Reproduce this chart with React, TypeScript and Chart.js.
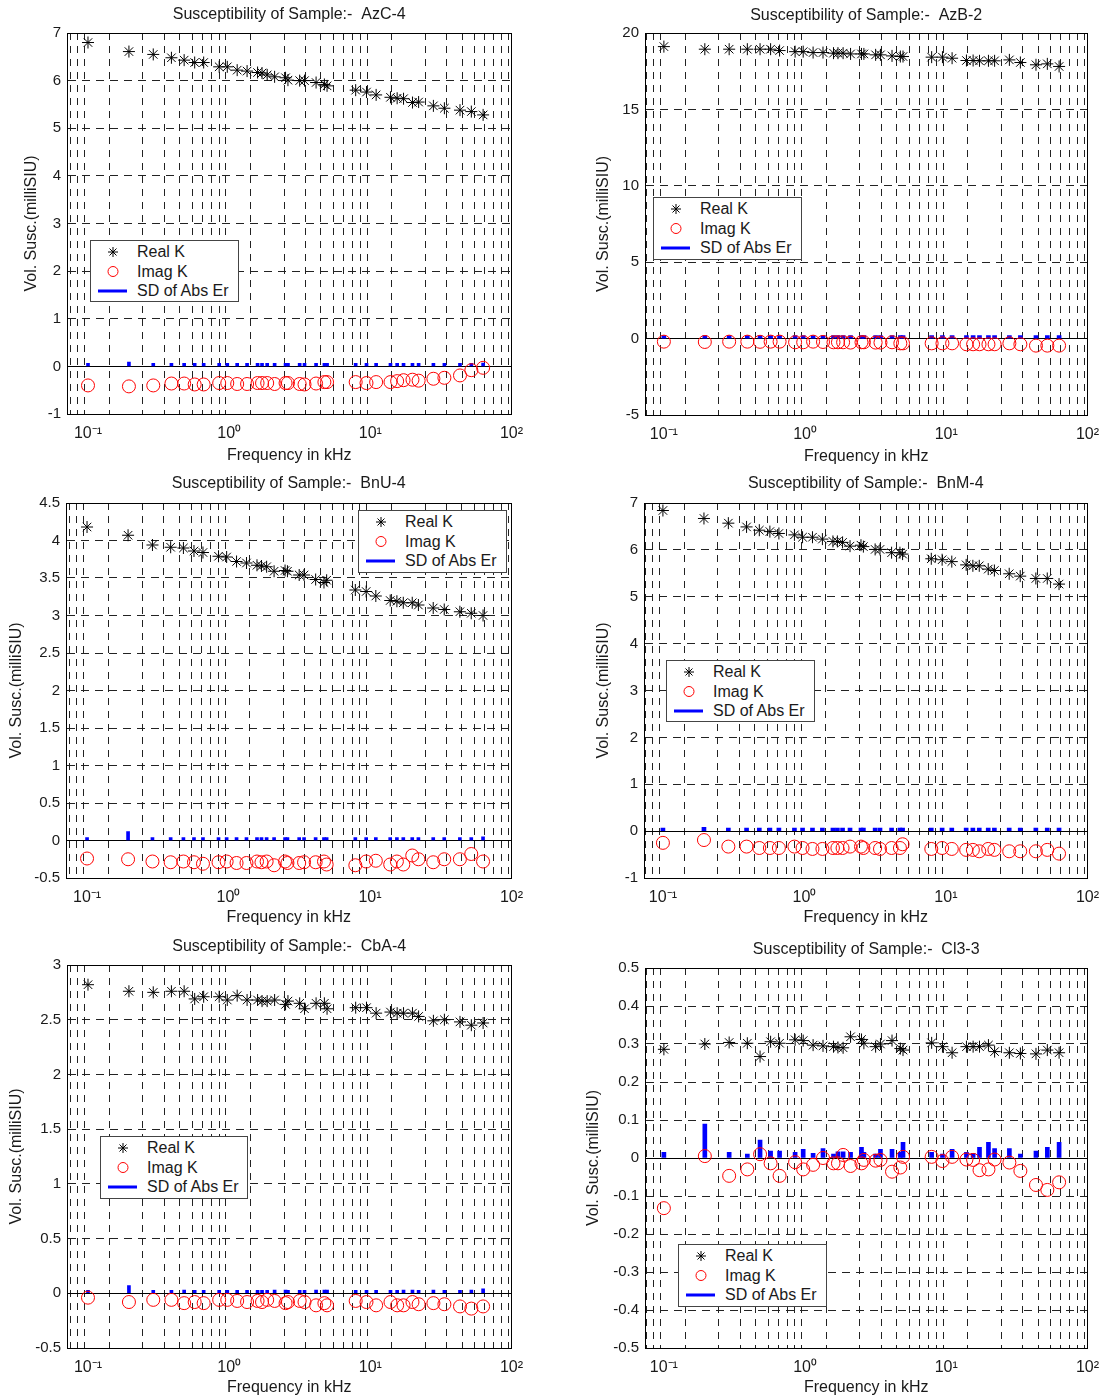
import React, { useEffect, useRef } from 'react';
import { Chart, registerables } from 'chart.js';

Chart.register(...registerables);

// ---------- data ----------
const freqKHz = [0.1, 0.195, 0.29, 0.39, 0.48, 0.57, 0.66, 0.85, 0.97, 1.14, 1.34, 1.59, 1.71, 1.86, 2.1, 2.51, 2.61, 3.16, 3.42, 4.13, 4.73, 4.94, 7.88, 9.4, 11.0, 13.9, 15.5, 17.2, 19.9, 22.0, 28.0, 33.5, 43.2, 52.0, 63.0];

const azc4Real = [6.80, 6.61, 6.55, 6.48, 6.43, 6.38, 6.38, 6.29, 6.29, 6.22, 6.20, 6.17, 6.16, 6.12, 6.08, 6.06, 6.01, 6.00, 6.00, 5.96, 5.92, 5.89, 5.80, 5.76, 5.70, 5.65, 5.63, 5.62, 5.54, 5.55, 5.47, 5.42, 5.38, 5.35, 5.28];
const azc4Imag = [-0.40, -0.42, -0.40, -0.36, -0.36, -0.38, -0.38, -0.35, -0.35, -0.37, -0.37, -0.35, -0.35, -0.35, -0.37, -0.35, -0.35, -0.37, -0.38, -0.36, -0.33, -0.33, -0.33, -0.35, -0.33, -0.33, -0.31, -0.29, -0.28, -0.30, -0.26, -0.24, -0.19, -0.08, -0.03];
const azc4Sd = [0.04, 0.09, 0.04, 0.04, 0.03, 0.04, 0.04, 0.04, 0.03, 0.03, 0.03, 0.04, 0.04, 0.04, 0.03, 0.04, 0.03, 0.04, 0.04, 0.03, 0.04, 0.04, 0.04, 0.04, 0.04, 0.02, 0.04, 0.03, 0.03, 0.03, 0.03, 0.02, 0.03, 0.05, 0.07];

const azb2Real = [19.11, 18.94, 18.94, 18.94, 18.94, 18.94, 18.85, 18.78, 18.78, 18.72, 18.72, 18.68, 18.68, 18.68, 18.63, 18.63, 18.63, 18.57, 18.57, 18.50, 18.46, 18.46, 18.42, 18.42, 18.35, 18.20, 18.20, 18.18, 18.18, 18.18, 18.24, 18.07, 17.92, 17.98, 17.81];
const azb2Imag = [-0.20, -0.22, -0.20, -0.20, -0.21, -0.20, -0.20, -0.24, -0.24, -0.20, -0.22, -0.24, -0.24, -0.24, -0.26, -0.24, -0.24, -0.26, -0.26, -0.24, -0.31, -0.31, -0.31, -0.31, -0.31, -0.37, -0.37, -0.37, -0.37, -0.37, -0.31, -0.37, -0.46, -0.46, -0.46];
const azb2Sd = [0.10, 0.12, 0.10, 0.10, 0.08, 0.10, 0.10, 0.10, 0.08, 0.10, 0.10, 0.12, 0.10, 0.10, 0.08, 0.10, 0.10, 0.10, 0.10, 0.10, 0.10, 0.12, 0.10, 0.10, 0.10, 0.10, 0.08, 0.10, 0.10, 0.08, 0.10, 0.10, 0.10, 0.10, 0.08];

const bnu4Real = [4.18, 4.07, 3.94, 3.91, 3.90, 3.86, 3.84, 3.79, 3.78, 3.72, 3.70, 3.67, 3.66, 3.65, 3.59, 3.60, 3.59, 3.54, 3.54, 3.48, 3.44, 3.47, 3.34, 3.32, 3.26, 3.20, 3.19, 3.17, 3.17, 3.14, 3.10, 3.08, 3.05, 3.03, 3.00];
const bnu4Imag = [-0.24, -0.25, -0.28, -0.29, -0.28, -0.29, -0.31, -0.29, -0.28, -0.30, -0.30, -0.28, -0.29, -0.28, -0.33, -0.28, -0.30, -0.30, -0.29, -0.29, -0.28, -0.32, -0.33, -0.28, -0.27, -0.32, -0.28, -0.32, -0.20, -0.25, -0.29, -0.25, -0.25, -0.18, -0.28];
const bnu4Sd = [0.03, 0.12, 0.02, 0.02, 0.03, 0.02, 0.02, 0.02, 0.02, 0.02, 0.02, 0.03, 0.03, 0.03, 0.03, 0.02, 0.02, 0.02, 0.03, 0.03, 0.03, 0.04, 0.02, 0.02, 0.03, 0.03, 0.04, 0.03, 0.02, 0.02, 0.02, 0.02, 0.02, 0.04, 0.05];

const bnm4Real = [6.84, 6.67, 6.57, 6.49, 6.42, 6.39, 6.35, 6.32, 6.27, 6.27, 6.23, 6.18, 6.18, 6.16, 6.08, 6.10, 6.07, 6.01, 6.01, 5.94, 5.94, 5.91, 5.81, 5.79, 5.75, 5.68, 5.66, 5.66, 5.59, 5.56, 5.49, 5.44, 5.39, 5.39, 5.27];
const bnm4Imag = [-0.25, -0.19, -0.33, -0.33, -0.36, -0.36, -0.36, -0.33, -0.36, -0.38, -0.38, -0.36, -0.36, -0.36, -0.33, -0.33, -0.36, -0.36, -0.38, -0.36, -0.36, -0.28, -0.38, -0.36, -0.38, -0.40, -0.40, -0.43, -0.38, -0.40, -0.43, -0.43, -0.43, -0.40, -0.48];
const bnm4Sd = [0.03, 0.08, 0.05, 0.05, 0.03, 0.05, 0.05, 0.03, 0.03, 0.05, 0.03, 0.05, 0.05, 0.04, 0.03, 0.03, 0.03, 0.05, 0.03, 0.03, 0.05, 0.05, 0.05, 0.05, 0.05, 0.05, 0.05, 0.03, 0.05, 0.05, 0.03, 0.05, 0.05, 0.03, 0.03];

const cba4Real = [2.82, 2.76, 2.75, 2.76, 2.76, 2.69, 2.71, 2.71, 2.68, 2.72, 2.68, 2.68, 2.67, 2.67, 2.68, 2.64, 2.67, 2.65, 2.60, 2.65, 2.65, 2.60, 2.61, 2.61, 2.56, 2.57, 2.56, 2.56, 2.56, 2.53, 2.49, 2.50, 2.48, 2.45, 2.47];
const cba4Imag = [-0.04, -0.08, -0.06, -0.06, -0.09, -0.08, -0.09, -0.06, -0.06, -0.07, -0.08, -0.07, -0.08, -0.06, -0.07, -0.09, -0.08, -0.07, -0.08, -0.11, -0.09, -0.11, -0.07, -0.08, -0.11, -0.08, -0.11, -0.11, -0.08, -0.10, -0.09, -0.10, -0.12, -0.14, -0.12];
const cba4Sd = [0.01, 0.07, 0.02, 0.01, 0.03, 0.02, 0.02, 0.02, 0.02, 0.01, 0.01, 0.02, 0.02, 0.02, 0.03, 0.03, 0.02, 0.02, 0.02, 0.03, 0.03, 0.03, 0.01, 0.01, 0.01, 0.02, 0.02, 0.03, 0.03, 0.02, 0.03, 0.01, 0.01, 0.03, 0.04];

const cl33Real = [0.286, 0.300, 0.304, 0.302, 0.267, 0.306, 0.302, 0.311, 0.309, 0.297, 0.295, 0.293, 0.291, 0.290, 0.319, 0.312, 0.302, 0.293, 0.300, 0.309, 0.288, 0.284, 0.303, 0.293, 0.277, 0.293, 0.293, 0.293, 0.297, 0.280, 0.277, 0.275, 0.274, 0.284, 0.277];
const cl33Imag = [-0.132, 0.005, -0.047, -0.030, 0.010, -0.014, -0.047, -0.011, -0.030, -0.018, 0.000, -0.014, -0.014, 0.008, -0.021, -0.014, -0.005, -0.007, -0.005, -0.036, -0.025, 0.003, 0.003, -0.008, 0.003, -0.004, -0.005, -0.032, -0.030, -0.004, -0.012, -0.034, -0.071, -0.084, -0.064];
const cl33Sd = [0.015, 0.089, 0.015, 0.010, 0.047, 0.018, 0.018, 0.015, 0.023, 0.012, 0.025, 0.010, 0.016, 0.016, 0.015, 0.028, 0.015, 0.010, 0.023, 0.023, 0.015, 0.041, 0.015, 0.010, 0.023, 0.015, 0.012, 0.028, 0.041, 0.025, 0.025, 0.010, 0.018, 0.028, 0.041];

// axis ticks / labels
const xGridTicks = [0.08, 0.09, 0.1, 0.2, 0.3, 0.4, 0.5, 0.6, 0.7, 0.8, 0.9, 1, 2, 3, 4, 5, 6, 7, 8, 9, 10, 20, 30, 40, 50, 60, 70, 80, 90, 100];
const xDecadeValues = [0.1, 1, 10, 100];
const xDecadeLabels = ['10\u207B\u00B9', '10\u2070', '10\u00B9', '10\u00B2'];
const yRangeAzc4 = [-1, 7, 1];
const yRangeAzb2 = [-5, 20, 5];
const yRangeBnu4 = [-0.5, 4.5, 0.5];
const yRangeBnm4 = [-1, 7, 1];
const yRangeCba4 = [-0.5, 3, 0.5];
const yRangeCl33 = [-0.5, 0.5, 0.1];
const legendLabels = ['Real K', 'Imag K', 'SD of Abs Er'];
const titlePrefix = 'Susceptibility of Sample:-  ';
const xAxisTitle = 'Frequency in kHz';
const yAxisTitle = 'Vol. Susc.(milliSIU)';

// ---------- layout (page pixels) ----------
type PanelSpec = {
  name: string;
  real: number[];
  imag: number[];
  sd: number[];
  yRange: number[];
  plot: number[]; // left, top, right, bottom
  canvasLeft: number;
  titleY: number;
  yTitleX: number;
  xTitleY: number;
  xMin: number;
  legend: number[]; // x, y, w, h
  barW: number;
};

const panels: PanelSpec[] = [
  { name: 'AzC-4', real: azc4Real, imag: azc4Imag, sd: azc4Sd, yRange: yRangeAzc4, plot: [67, 33, 515, 414], canvasLeft: 0, titleY: 15, yTitleX: 32, xTitleY: 456, xMin: 0.071, legend: [90, 240, 149, 62], barW: 3 },
  { name: 'AzB-2', real: azb2Real, imag: azb2Imag, sd: azb2Sd, yRange: yRangeAzb2, plot: [645, 33, 1091, 415], canvasLeft: 555, titleY: 16, yTitleX: 604, xTitleY: 457, xMin: 0.0735, legend: [653, 197, 149, 63], barW: 4 },
  { name: 'BnU-4', real: bnu4Real, imag: bnu4Imag, sd: bnu4Sd, yRange: yRangeBnu4, plot: [66, 503, 515, 878], canvasLeft: 0, titleY: 484, yTitleX: 17, xTitleY: 918, xMin: 0.071, legend: [358, 510, 149, 63], barW: 3 },
  { name: 'BnM-4', real: bnm4Real, imag: bnm4Imag, sd: bnm4Sd, yRange: yRangeBnm4, plot: [644, 503, 1091, 878], canvasLeft: 555, titleY: 484, yTitleX: 604, xTitleY: 918, xMin: 0.0735, legend: [666, 660, 149, 62], barW: 4 },
  { name: 'CbA-4', real: cba4Real, imag: cba4Imag, sd: cba4Sd, yRange: yRangeCba4, plot: [67, 965, 515, 1348], canvasLeft: 0, titleY: 947, yTitleX: 17, xTitleY: 1388, xMin: 0.071, legend: [100, 1136, 148, 63], barW: 3 },
  { name: 'Cl3-3', real: cl33Real, imag: cl33Imag, sd: cl33Sd, yRange: yRangeCl33, plot: [645, 968, 1091, 1348], canvasLeft: 555, titleY: 950, yTitleX: 594, xTitleY: 1388, xMin: 0.0735, legend: [678, 1244, 149, 63], barW: 4 },
];

const FONT_FAMILY = '"Liberation Sans", Arial, Helvetica, sans-serif';
const FONT_SIZE = 16;
const TEXT_COLOR = '#1a1a1a';
const GRID_COLOR = '#222222';
const TITLE_BAND = 33;
const X_BAND = 55;
const RIGHT_PAD = 18;

function decadeLabel(v: number): string {
  for (let i = 0; i < xDecadeValues.length; i++) {
    if (Math.abs(v - xDecadeValues[i]) / xDecadeValues[i] < 1e-6) return xDecadeLabels[i];
  }
  return '';
}

function yLabel(v: number): string {
  return String(Math.round(v * 1e6) / 1e6);
}

function Panel({ p }: { p: PanelSpec }) {
  const ref = useRef<HTMLCanvasElement | null>(null);
  const [L, T, R, B] = p.plot;
  const cLeft = p.canvasLeft;
  const cTop = T - TITLE_BAND;
  const cRight = R + RIGHT_PAD;
  const cBottom = B + X_BAND;
  const W = cRight - cLeft;
  const H = cBottom - cTop;

  useEffect(() => {
    if (!ref.current) return;
    const half = FONT_SIZE / 2;
    const font = { family: FONT_FAMILY, size: FONT_SIZE, weight: 'normal' as const, lineHeight: 1 };
    const tickFont = { family: FONT_FAMILY, size: 15, weight: 'normal' as const, lineHeight: 1.2 };
    const titlePadTop = p.titleY - cTop - half;
    const xTitlePadBottom = cBottom - half - p.xTitleY;
    const yTitlePadTop = p.yTitleX - cLeft - half;
    const [yMin, yMax, yStep] = p.yRange;

    const chart = new Chart(ref.current, {
      type: 'scatter',
      data: {
        datasets: [
          {
            type: 'scatter',
            label: legendLabels[0],
            data: freqKHz.map((f, i) => ({ x: f, y: p.real[i] })),
            pointStyle: 'star',
            pointRadius: 6,
            borderColor: '#000000',
            backgroundColor: '#000000',
            borderWidth: 1,
            showLine: false,
            order: 1,
          },
          {
            type: 'scatter',
            label: legendLabels[1],
            data: freqKHz.map((f, i) => ({ x: f, y: p.imag[i] })),
            pointStyle: 'circle',
            pointRadius: 6.5,
            borderColor: '#ff0000',
            backgroundColor: 'rgba(0,0,0,0)',
            borderWidth: 1,
            showLine: false,
            order: 2,
          },
          {
            type: 'bar',
            label: legendLabels[2],
            data: freqKHz.map((f, i) => ({ x: f, y: p.sd[i] })),
            backgroundColor: '#0000ff',
            borderWidth: 0,
            barThickness: p.barW,
            minBarLength: 3,
            order: 3,
          } as any,
        ],
      },
      options: {
        responsive: false,
        animation: false,
        events: [],
        layout: { padding: { left: 0, top: 0, right: cRight - R, bottom: 0 } },
        plugins: {
          legend: { display: false },
          tooltip: { enabled: false },
          title: {
            display: true,
            fullSize: false,
            text: titlePrefix + p.name,
            color: TEXT_COLOR,
            font,
            padding: { top: titlePadTop, bottom: TITLE_BAND - FONT_SIZE - titlePadTop },
          },
        },
        scales: {
          x: {
            type: 'logarithmic',
            position: 'bottom',
            min: p.xMin,
            max: 100,
            offset: false,
            afterBuildTicks: (s: any) => {
              s.ticks = xGridTicks.map((v) => ({ value: v }));
            },
            afterFit: (s: any) => {
              s.height = cBottom - B;
            },
            ticks: {
              autoSkip: false,
              maxRotation: 0,
              minRotation: 0,
              padding: 10,
              color: TEXT_COLOR,
              font: { family: FONT_FAMILY, size: 16, weight: 'normal' as const, lineHeight: 1.2 },
              callback: (v: any) => decadeLabel(Number(v)),
            },
            grid: { display: true, color: GRID_COLOR, lineWidth: 1, drawTicks: false },
            border: { display: true, color: '#000000', width: 1, dash: [7, 6] },
            title: {
              display: true,
              text: xAxisTitle,
              color: TEXT_COLOR,
              font,
              padding: { top: 0, bottom: xTitlePadBottom },
            },
          },
          x2: {
            type: 'linear',
            position: 'top',
            min: 0,
            max: 1,
            ticks: { display: false },
            grid: { display: false, drawTicks: false },
            border: { display: true, color: '#000000', width: 1 },
            afterFit: (s: any) => {
              s.height = 0;
            },
          },
          y: {
            type: 'linear',
            position: 'left',
            min: yMin,
            max: yMax,
            afterFit: (s: any) => {
              s.width = L - cLeft;
            },
            ticks: {
              stepSize: yStep,
              padding: 6,
              color: TEXT_COLOR,
              font: tickFont,
              callback: (v: any) => yLabel(Number(v)),
            },
            grid: {
              display: true,
              lineWidth: 1,
              drawTicks: false,
              color: (c: any) => (c.tick && Math.abs(c.tick.value) < 1e-9 ? '#000000' : GRID_COLOR),
            },
            border: {
              display: true,
              color: '#000000',
              width: 1,
              dash: (c: any) => (c.tick && Math.abs(c.tick.value) < 1e-9 ? [] : [8, 6]),
            },
            title: {
              display: true,
              text: yAxisTitle,
              color: TEXT_COLOR,
              font,
              padding: { top: yTitlePadTop, bottom: 0 },
            },
          },
          y2: {
            type: 'linear',
            position: 'right',
            min: 0,
            max: 1,
            ticks: { display: false },
            grid: { display: false, drawTicks: false },
            border: { display: true, color: '#000000', width: 1 },
            afterFit: (s: any) => {
              s.width = 0;
            },
          },
        },
      } as any,
    });
    return () => chart.destroy();
  }, []);

  return (
    <canvas
      ref={ref}
      width={W}
      height={H}
      style={{ position: 'absolute', left: cLeft, top: cTop, width: W, height: H }}
    />
  );
}

function LegendBox({ p }: { p: PanelSpec }) {
  const [x, y, w, h] = p.legend;
  const rows = [12, 31.5, 51];
  const textStyle: React.CSSProperties = {
    position: 'absolute',
    left: 46,
    fontFamily: FONT_FAMILY,
    fontSize: FONT_SIZE,
    lineHeight: '18px',
    color: TEXT_COLOR,
    whiteSpace: 'nowrap',
  };
  return (
    <div
      style={{
        position: 'absolute',
        left: x,
        top: y,
        width: w,
        height: h,
        boxSizing: 'border-box',
        border: '1px solid #444',
        background: '#ffffff',
      }}
    >
      <svg width={46} height={h} style={{ position: 'absolute', left: -1, top: -1 }}>
        <g stroke="#000" strokeWidth={1}>
          <line x1={23} y1={rows[0] - 5} x2={23} y2={rows[0] + 5} />
          <line x1={18} y1={rows[0]} x2={28} y2={rows[0]} />
          <line x1={19.5} y1={rows[0] - 3.5} x2={26.5} y2={rows[0] + 3.5} />
          <line x1={19.5} y1={rows[0] + 3.5} x2={26.5} y2={rows[0] - 3.5} />
        </g>
        <circle cx={23} cy={rows[1]} r={5} fill="none" stroke="#ff0000" strokeWidth={1} />
        <line x1={8} y1={rows[2]} x2={37} y2={rows[2]} stroke="#0000ff" strokeWidth={3} />
      </svg>
      {legendLabels.map((t, i) => (
        <div key={t} style={{ ...textStyle, top: rows[i] - 10 }}>
          {t}
        </div>
      ))}
    </div>
  );
}

export default function App() {
  return (
    <div
      style={{
        position: 'absolute',
        left: 0,
        top: 0,
        width: 1105,
        height: 1399,
        background: '#ffffff',
        overflow: 'hidden',
      }}
    >
      {panels.map((p) => (
        <Panel key={p.name} p={p} />
      ))}
      {panels.map((p) => (
        <LegendBox key={'lg-' + p.name} p={p} />
      ))}
    </div>
  );
}
